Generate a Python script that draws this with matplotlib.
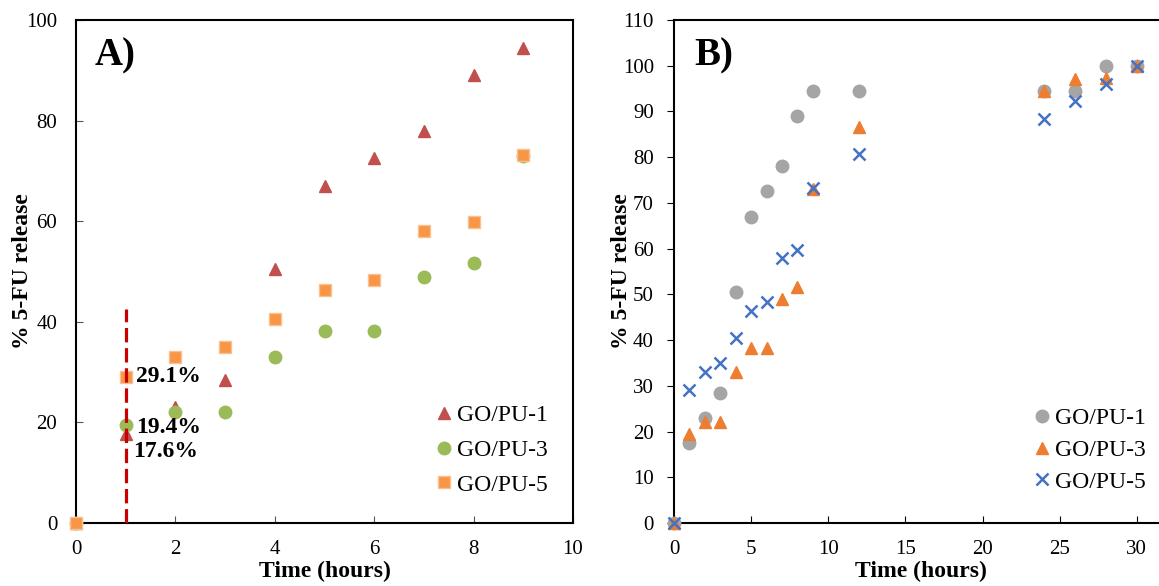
import matplotlib
matplotlib.use("Agg")
import matplotlib.pyplot as plt

plt.rcParams['font.family'] = ['Liberation Serif', 'DejaVu Serif']

# Panel A data
hours_a = [0, 1, 2, 3, 4, 5, 6, 7, 8, 9]
a_pu1 = [0, 17.6, 23.0, 28.5, 50.5, 67.0, 72.5, 78.0, 89.0, 94.5]
a_pu3 = [0, 19.4, 22.0, 22.0, 33.0, 38.2, 38.2, 49.0, 51.7, 73.0]
a_pu5 = [0, 29.1, 33.0, 35.0, 40.5, 46.3, 48.3, 58.0, 59.8, 73.2]

# Panel B data
hours_b = [0, 1, 2, 3, 4, 5, 6, 7, 8, 9, 12, 24, 26, 28, 30]
b_pu1 = [0, 17.6, 23.0, 28.5, 50.5, 67.0, 72.5, 78.0, 89.0, 94.5, 94.5, 94.5, 94.5, 100, 100]
b_pu3 = [0, 19.4, 22.0, 22.0, 33.0, 38.2, 38.2, 49.0, 51.7, 73.0, 86.5, 94.5, 97.2, 97.3, 100]
b_pu5 = [0, 29.1, 33.0, 35.0, 40.5, 46.3, 48.3, 58.0, 59.8, 73.2, 80.8, 88.4, 92.2, 96.1, 100]

labels = ["GO/PU-1", "GO/PU-3", "GO/PU-5"]
annot_x = 1
annot_vals = [29.1, 19.4, 17.6]
annot_text = ["29.1%", "19.4%", "17.6%"]
dash_top = 42.5

W, H = 1159, 586
fig = plt.figure(figsize=(W / 100, H / 100), dpi=100)

axA = fig.add_axes([76 / W, 1 - 523 / H, 497 / W, 503 / H])
axB = fig.add_axes([674 / W, 1 - 523 / H, 540 / W, 503 / H])

TICK = 15
LAB = 17

# ---- Panel A
axA.plot(hours_a, a_pu1, linestyle='none', marker='^', ms=8, color='#C0504D', label=labels[0], clip_on=False, zorder=3)
axA.plot(hours_a, a_pu3, linestyle='none', marker='o', ms=9, color='#9BBB59', label=labels[1], clip_on=False, zorder=3)
axA.plot(hours_a, a_pu5, linestyle='none', marker='s', ms=8.5, color='#F79646',
         markeredgecolor='#FAC090', markeredgewidth=1, label=labels[2], clip_on=False, zorder=3)
axA.plot([annot_x, annot_x], [0, dash_top], color='#C80000', lw=2.3, dashes=(4.5, 1.8), zorder=5)
axA.text(1.2, annot_vals[0], annot_text[0], fontsize=17, fontweight='bold', va='center', ha='left')
axA.text(1.2, annot_vals[1] - 0.4, annot_text[1], fontsize=17, fontweight='bold', va='center', ha='left')
axA.text(1.15, annot_vals[2] - 3.4, annot_text[2], fontsize=17, fontweight='bold', va='center', ha='left')
axA.set_xlim(0, 10)
axA.set_ylim(0, 100)
axA.set_xticks(range(0, 11, 2))
axA.set_yticks(range(0, 101, 20))
axA.tick_params(axis='x', direction='in', length=5, labelsize=TICK, pad=12, color='#555555')
axA.tick_params(axis='y', direction='in', length=5, labelsize=TICK, pad=13.5, color='#555555')
axA.set_xlabel("Time (hours)", fontsize=LAB, fontweight='bold')
axA.xaxis.set_label_coords(0.5, -0.0755)
axA.set_ylabel("% 5-FU release", fontsize=LAB, fontweight='bold')
axA.yaxis.set_label_coords(-0.0865, 0.5)
axA.text(0.038, 0.965, "A)", transform=axA.transAxes, fontsize=28, fontweight='bold', va='top', ha='left')
for s in axA.spines.values():
    s.set_linewidth(1.5)
axA.legend(loc='center left', bbox_to_anchor=(432 / W, 1 - 450 / H), bbox_transform=fig.transFigure,
           frameon=False, fontsize=17, handletextpad=0.05, handlelength=1.0,
           labelspacing=0.56, borderaxespad=0, borderpad=0)

# ---- Panel B
axB.plot(hours_b, b_pu1, linestyle='none', marker='o', ms=9, color='#A5A5A5', label=labels[0], clip_on=False, zorder=3)
axB.plot(hours_b, b_pu3, linestyle='none', marker='^', ms=9, color='#ED7D31', label=labels[1], clip_on=False, zorder=3)
axB.plot(hours_b, b_pu5, linestyle='none', marker='x', ms=8, mew=1.8, color='#4472C4', label=labels[2], clip_on=False, zorder=3)
axB.set_xlim(0, 35)
axB.set_ylim(0, 110)
axB.set_xticks(range(0, 31, 5))
axB.set_yticks(range(0, 111, 10))
axB.tick_params(axis='x', direction='in', length=5, labelsize=TICK, pad=12)
axB.tick_params(axis='y', direction='out', length=5, labelsize=TICK, pad=9.5)
axB.set_xlabel("Time (hours)", fontsize=LAB, fontweight='bold')
axB.xaxis.set_label_coords(0.457, -0.0755)
axB.set_ylabel("% 5-FU release", fontsize=LAB, fontweight='bold')
axB.yaxis.set_label_coords(-0.078, 0.5)
axB.text(0.038, 0.965, "B)", transform=axB.transAxes, fontsize=28, fontweight='bold', va='top', ha='left')
for s in axB.spines.values():
    s.set_linewidth(1.5)
axB.legend(loc='center left', bbox_to_anchor=(1030 / W, 1 - 450 / H), bbox_transform=fig.transFigure,
           frameon=False, fontsize=17, handletextpad=0.05, handlelength=1.0,
           labelspacing=0.44, borderaxespad=0, borderpad=0)

fig.savefig("out.png", dpi=100)
